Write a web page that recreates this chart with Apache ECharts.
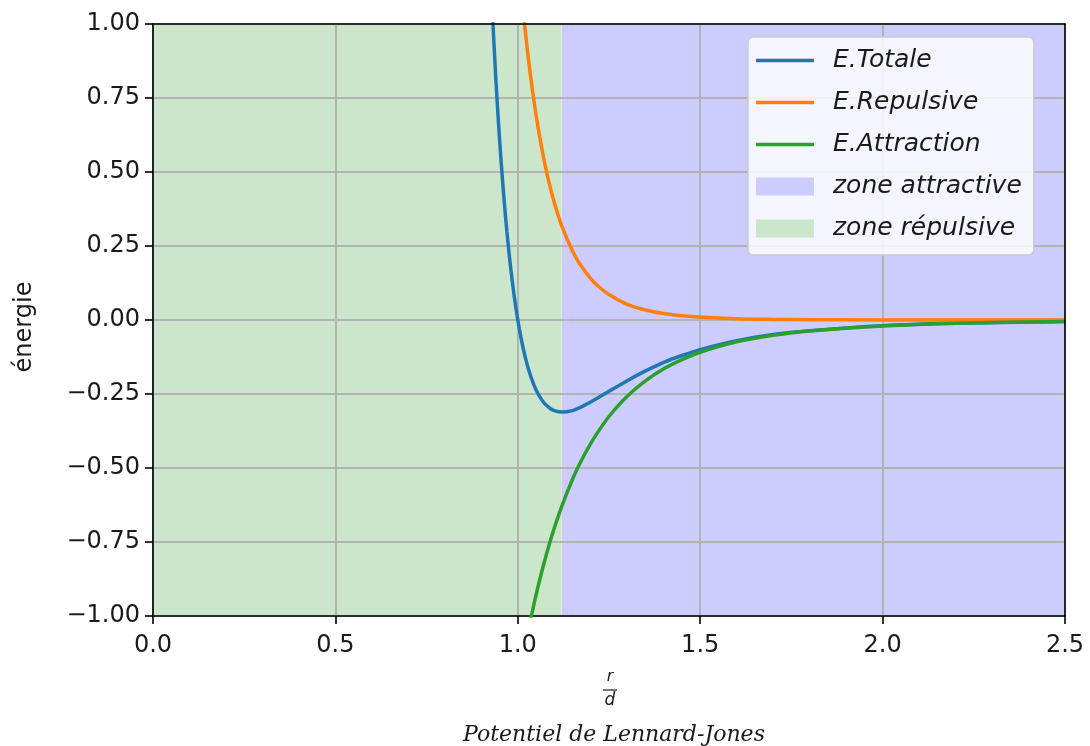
<!doctype html>
<html>
<head>
  <meta charset="utf-8">
  <title>Potentiel de Lennard-Jones</title>
  <script src="https://cdn.jsdelivr.net/npm/echarts@6/dist/echarts.min.js"></script>
</head>
<body style="margin:0">
  <div id="main" style="width:1090px;height:746px;"></div>
  <script>
  // values
  var xTotale = [0.92, 0.93, 0.94, 0.95, 0.96, 0.97, 0.98, 0.99, 1.00, 1.01, 1.02, 1.03, 1.04, 1.05, 1.06, 1.07, 1.08, 1.09, 1.10, 1.12, 1.15, 1.17, 1.20, 1.22, 1.25, 1.30, 1.35, 1.40, 1.45, 1.50, 1.60, 1.70, 1.80, 2.00, 2.20, 2.50];
  var eTotale = [1.33, 1.05, 0.81, 0.610, 0.442, 0.300, 0.181, 0.082, 0.000, -0.068, -0.124, -0.169, -0.206, -0.236, -0.259, -0.277, -0.290, -0.300, -0.306, -0.311, -0.306, -0.296, -0.277, -0.263, -0.241, -0.205, -0.172, -0.143, -0.120, -0.100, -0.070, -0.049, -0.036, -0.019, -0.011, -0.005];

  var xRepulsive = [1.00, 1.01, 1.02, 1.03, 1.04, 1.05, 1.06, 1.07, 1.08, 1.09, 1.10, 1.12, 1.15, 1.17, 1.20, 1.22, 1.25, 1.30, 1.35, 1.40, 1.45, 1.50, 1.60, 1.70, 1.80, 2.00, 2.50];
  var eRepulsive = [1.245, 1.105, 0.982, 0.873, 0.778, 0.693, 0.619, 0.553, 0.494, 0.443, 0.397, 0.320, 0.233, 0.189, 0.140, 0.115, 0.086, 0.053, 0.034, 0.022, 0.014, 0.010, 0.004, 0.002, 0.001, 0.0003, 0.0];

  var xAttraction = [1.00, 1.01, 1.02, 1.03, 1.04, 1.05, 1.06, 1.07, 1.08, 1.09, 1.10, 1.12, 1.15, 1.17, 1.20, 1.22, 1.25, 1.30, 1.35, 1.40, 1.45, 1.50, 1.60, 1.70, 1.80, 2.00, 2.20, 2.50];
  var eAttraction = [-1.245, -1.173, -1.106, -1.043, -0.984, -0.929, -0.878, -0.830, -0.785, -0.742, -0.703, -0.631, -0.538, -0.485, -0.417, -0.378, -0.326, -0.258, -0.206, -0.165, -0.134, -0.109, -0.074, -0.052, -0.037, -0.020, -0.011, -0.005];

  // zones: [start, end] along r/d
  var zoneRepulsive = [0.0, 1.12];
  var zoneAttractive = [1.12, 2.5];

  function pairs(xs, ys) {
    var out = [];
    for (var i = 0; i < xs.length; i++) out.push([xs[i], ys[i]]);
    return out;
  }
  function zone(z) {
    return [[z[0], 1], [z[1], 1]];
  }

  var tickFont = { fontFamily: 'DejaVu Sans', fontSize: 24, color: '#1a1a1a' };
  // flat line icon for the legend (tiny corner dots keep the 58x18 box)
  var lineIcon = 'path://M0,0h0.01v0.01h-0.01Z M0,7.25h58v3.5h-58Z M57.99,17.99h0.01v0.01h-0.01Z';

  function curve(name, color, data) {
    return {
      name: name,
      type: 'line',
      z: 3,
      data: data,
      symbol: 'none',
      smooth: 0.3,
      clip: true,
      lineStyle: { color: color, width: 3.5 },
      itemStyle: { color: color }
    };
  }
  function area(name, color, data) {
    return {
      name: name,
      type: 'line',
      z: 0,
      data: data,
      symbol: 'none',
      lineStyle: { width: 0, opacity: 0 },
      itemStyle: { color: color },
      areaStyle: { color: color, opacity: 1, origin: 'start' }
    };
  }

  var option = {
    animation: false,
    backgroundColor: '#ffffff',
    grid: { left: 153, top: 24, width: 912, height: 592 },
    legend: {
      orient: 'vertical',
      left: 748,
      top: 37,
      z: 10,
      padding: [11, 12, 14, 8],
      itemWidth: 58,
      itemHeight: 18,
      itemGap: 17,
      backgroundColor: 'rgba(255,255,255,0.8)',
      borderColor: '#cccccc',
      borderWidth: 1.5,
      borderRadius: 5,
      textStyle: { fontFamily: 'DejaVu Sans', fontStyle: 'italic', fontSize: 25, lineHeight: 25, color: '#1a1a1a', padding: [0, 0, 0, 14] },
      data: [
        { name: 'E.Totale', icon: lineIcon, itemStyle: { color: '#1f77b4' } },
        { name: 'E.Repulsive', icon: lineIcon, itemStyle: { color: '#ff7f0e' } },
        { name: 'E.Attraction', icon: lineIcon, itemStyle: { color: '#2ca02c' } },
        { name: 'zone attractive', icon: 'rect', itemStyle: { color: '#ccccff' } },
        { name: 'zone répulsive', icon: 'rect', itemStyle: { color: '#cce6cc' } }
      ]
    },
    xAxis: [{
      type: 'value', min: 0, max: 2.5, interval: 0.5, z: 1,
      axisLine: { onZero: false, lineStyle: { color: '#000', width: 1.6 } },
      axisTick: { show: true, length: 8, lineStyle: { color: '#000', width: 1.6 } },
      axisLabel: Object.assign({ margin: 18, formatter: function (v) { return v.toFixed(1); } }, tickFont),
      splitLine: { show: true, lineStyle: { color: '#b3b3b3', width: 2 } }
    }, {
      type: 'value', min: 0, max: 2.5, position: 'top', z: 5,
      axisLine: { onZero: false, lineStyle: { color: '#000', width: 1.6 } },
      axisTick: { show: false }, axisLabel: { show: false }, splitLine: { show: false }
    }],
    yAxis: [{
      type: 'value', min: -1, max: 1, interval: 0.25, z: 1,
      axisLine: { show: true, onZero: false, lineStyle: { color: '#000', width: 1.6 } },
      axisTick: { show: true, length: 8, lineStyle: { color: '#000', width: 1.6 } },
      axisLabel: Object.assign({ margin: 13, formatter: function (v) {
        var s = Math.abs(v).toFixed(2);
        return v < 0 ? '\u2212' + s : s;
      } }, tickFont),
      splitLine: { show: true, lineStyle: { color: '#b3b3b3', width: 2 } }
    }, {
      type: 'value', min: -1, max: 1, position: 'right', z: 5,
      axisLine: { show: true, onZero: false, lineStyle: { color: '#000', width: 1.6 } },
      axisTick: { show: false }, axisLabel: { show: false }, splitLine: { show: false }
    }],
    graphic: [
      {
        type: 'text', x: 25, y: 327, rotation: Math.PI / 2,
        style: { text: 'énergie', fontFamily: 'DejaVu Sans', fontSize: 24, fill: '#1a1a1a', align: 'center', verticalAlign: 'middle' }
      },
      {
        type: 'text', x: 610, y: 677,
        style: { text: 'r', fontFamily: 'DejaVu Sans', fontStyle: 'italic', fontSize: 16, fill: '#1a1a1a', align: 'center', verticalAlign: 'middle' }
      },
      {
        type: 'line', shape: { x1: 603, y1: 690, x2: 617, y2: 690 },
        style: { stroke: '#1a1a1a', lineWidth: 1.2 }
      },
      {
        type: 'text', x: 610, y: 701,
        style: { text: 'd', fontFamily: 'DejaVu Sans', fontStyle: 'italic', fontSize: 17, fill: '#1a1a1a', align: 'center', verticalAlign: 'middle' }
      },
      {
        type: 'text', x: 614, y: 735,
        style: { text: 'Potentiel de Lennard-Jones', fontFamily: 'DejaVu Serif', fontStyle: 'italic', fontSize: 22, fill: '#1a1a1a', align: 'center', verticalAlign: 'middle' }
      }
    ],
    series: [
      curve('E.Totale', '#1f77b4', pairs(xTotale, eTotale)),
      curve('E.Repulsive', '#ff7f0e', pairs(xRepulsive, eRepulsive)),
      curve('E.Attraction', '#2ca02c', pairs(xAttraction, eAttraction)),
      area('zone attractive', '#ccccff', zone(zoneAttractive)),
      area('zone répulsive', '#cce6cc', zone(zoneRepulsive))
    ]
  };

  var myChart = echarts.init(document.getElementById('main'));
  myChart.setOption(option);
  </script>
</body>
</html>
